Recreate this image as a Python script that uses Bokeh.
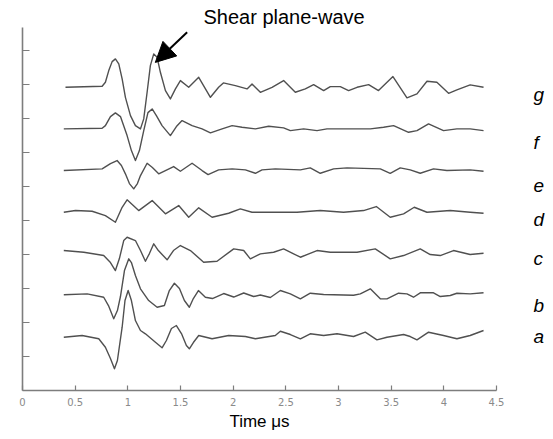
from bokeh.plotting import figure
from bokeh.models import (Range1d, FixedTicker, NumeralTickFormatter, LinearAxis,
                          Arrow, NormalHead)
from bokeh.embed import file_html
from bokeh.resources import INLINE

# ---------------- data (time in microseconds, vertical trace position in tick units) ----
time_g = [0.408, 0.756, 0.787, 0.819, 0.851, 0.882, 0.914, 0.946, 0.977, 1.025, 1.072, 1.120,
          1.151, 1.183, 1.214, 1.246, 1.278, 1.309, 1.357, 1.404, 1.452, 1.499,
          1.578, 1.673, 1.784, 1.862, 1.907, 2.021, 2.132, 2.179, 2.258, 2.369, 2.479, 2.590,
          2.685, 2.764, 2.859, 2.922, 3.017, 3.096, 3.176, 3.286, 3.380, 3.517, 3.650, 3.745,
          3.840, 3.934, 4.045, 4.124, 4.250, 4.377]
trace_g = [8.921, 8.950, 9.068, 9.412, 9.676, 9.756, 9.609, 9.168, 8.626, 8.088, 7.794, 7.697,
           7.991, 8.774, 9.559, 9.903, 9.803, 9.362, 8.824, 8.579, 8.874, 9.118,
           8.921, 9.215, 8.626, 8.921, 9.050, 8.971, 8.874, 9.021, 8.774, 8.921, 9.118, 8.774,
           8.874, 9.000, 8.824, 8.941, 8.941, 8.824, 8.921, 9.000, 8.824, 9.235, 8.609, 8.726,
           9.097, 9.068, 8.744, 8.844, 8.991, 8.921]

time_f = [0.392, 0.756, 0.787, 0.835, 0.882, 0.930, 0.993, 1.034, 1.072, 1.110, 1.151, 1.191,
          1.231, 1.271, 1.325, 1.404, 1.461, 1.515,
          1.610, 1.705, 1.784, 1.895, 1.990, 2.084, 2.211, 2.337, 2.479, 2.543, 2.669, 2.796,
          2.891, 3.302, 3.428, 3.523, 3.665, 3.745, 3.855, 3.997, 4.124, 4.250, 4.377]
trace_f = [7.697, 7.715, 7.794, 8.059, 8.168, 8.059, 7.500, 7.059, 6.765, 7.059, 7.647, 8.176,
           8.285, 8.088, 7.794, 7.500, 7.765, 7.941,
           7.794, 7.697, 7.579, 7.697, 7.794, 7.744, 7.697, 7.774, 7.726, 7.647, 7.697, 7.647,
           7.697, 7.697, 7.744, 7.794, 7.597, 7.647, 7.844, 7.647, 7.697, 7.697, 7.647]

time_e = [0.392, 0.756, 0.835, 0.898, 0.939, 0.977, 1.015, 1.056, 1.091, 1.120, 1.183, 1.233,
          1.293,
          1.435, 1.499, 1.610, 1.705, 1.762, 1.862, 1.990, 2.116, 2.211, 2.274, 2.400, 2.638,
          2.732, 2.827, 2.954, 3.081, 3.397, 3.491, 3.586, 3.681, 3.776, 3.902, 4.029, 4.250,
          4.377]
trace_e = [6.471, 6.521, 6.676, 6.765, 6.618, 6.374, 6.088, 5.932, 6.088, 6.324, 6.685, 6.559,
           6.374,
           6.588, 6.450, 6.685, 6.471, 6.353, 6.491, 6.521, 6.491, 6.391, 6.491, 6.521, 6.491,
           6.550, 6.391, 6.521, 6.550, 6.521, 6.391, 6.550, 6.491, 6.391, 6.521, 6.471, 6.491,
           6.450]

time_d = [0.392, 0.503, 0.661, 0.787, 0.882, 0.946, 0.993, 1.103, 1.231, 1.357, 1.483, 1.578,
          1.673, 1.800, 1.957, 2.068, 2.179, 2.400, 2.606, 2.827, 3.048, 3.238, 3.359, 3.491,
          3.618, 3.719, 3.840, 4.061, 4.250, 4.377]
trace_d = [5.244, 5.294, 5.274, 5.147, 4.950, 5.391, 5.609, 5.294, 5.588, 5.197, 5.441, 5.097,
           5.374, 5.097, 5.215, 5.344, 5.244, 5.244, 5.244, 5.294, 5.244, 5.294, 5.412, 5.097,
           5.197, 5.391, 5.244, 5.294, 5.244, 5.215]

time_c = [0.392, 0.582, 0.771, 0.835, 0.882, 0.920, 0.961, 0.993, 1.072, 1.120, 1.167, 1.205,
          1.246, 1.290, 1.373, 1.433, 1.499,
          1.594, 1.720, 1.847, 2.005, 2.100, 2.163, 2.258, 2.384, 2.479, 2.638, 2.796, 2.922,
          3.176, 3.349, 3.491, 3.618, 3.776, 3.871, 3.966, 4.092, 4.250, 4.377]
trace_c = [4.118, 4.068, 3.971, 3.765, 3.529, 3.882, 4.412, 4.509, 4.412, 4.118, 3.803, 4.029,
           4.315, 4.118, 3.844, 4.118, 4.265,
           4.118, 3.774, 3.803, 4.168, 4.118, 3.874, 4.021, 4.068, 4.168, 3.921, 4.118, 4.068,
           4.068, 4.168, 3.874, 3.971, 4.168, 4.000, 3.971, 4.118, 4.000, 4.038]

time_b = [0.392, 0.614, 0.771, 0.816, 0.866, 0.901, 0.930, 0.968, 1.009, 1.034, 1.072, 1.120,
          1.198, 1.278, 1.347, 1.394, 1.442, 1.490, 1.537, 1.584, 1.622, 1.670, 1.736,
          1.803, 1.910, 2.005, 2.100, 2.194, 2.258, 2.353, 2.448, 2.543, 2.638, 2.732, 2.859,
          3.143, 3.207, 3.302, 3.397, 3.460, 3.570, 3.650, 3.712, 3.776, 3.902, 3.966, 4.061,
          4.124, 4.250, 4.377]
trace_b = [2.815, 2.844, 2.744, 2.500, 2.109, 2.353, 2.765, 3.529, 3.874, 3.765, 3.382, 2.991,
           2.647, 2.450, 2.500, 2.941, 3.156, 3.000, 2.647, 2.450, 2.706, 2.941, 2.744,
           2.706, 2.853, 2.750, 2.868, 2.765, 2.809, 2.735, 2.941, 2.844, 2.697, 2.862, 2.824,
           2.803, 2.844, 2.991, 2.697, 2.697, 2.862, 2.844, 2.744, 2.874, 2.874, 2.765, 2.794,
           2.862, 2.844, 2.874]

time_a = [0.392, 0.566, 0.724, 0.787, 0.835, 0.873, 0.901, 0.946, 0.973, 1.003, 1.034, 1.072,
          1.120, 1.167, 1.262, 1.325, 1.366, 1.414, 1.461, 1.509, 1.556, 1.584, 1.622, 1.673,
          1.800, 1.957, 2.116, 2.211, 2.400, 2.448, 2.543, 2.638, 2.732, 2.859, 2.986, 3.143,
          3.254, 3.365, 3.460, 3.618, 3.681, 3.745, 3.855, 3.997, 4.124, 4.250, 4.377]
trace_a = [1.568, 1.618, 1.521, 1.274, 0.941, 0.638, 0.882, 1.862, 2.647, 2.941, 2.647, 2.059,
           1.765, 1.668, 1.421, 1.256, 1.471, 1.824, 1.912, 1.676, 1.324, 1.226, 1.412, 1.618,
           1.521, 1.618, 1.588, 1.521, 1.618, 1.744, 1.647, 1.521, 1.668, 1.618, 1.668, 1.588,
           1.715, 1.491, 1.568, 1.647, 1.588, 1.491, 1.715, 1.618, 1.521, 1.618, 1.765]

trace_names = ["g", "f", "e", "d", "c", "b", "a"]
x_ticks = [0, 0.5, 1, 1.5, 2, 2.5, 3, 3.5, 4, 4.5]
y_ticks = [1, 2, 3, 4, 5, 6, 7, 8, 9, 10]
x_title = "Time μs"
annotation = "Shear plane-wave"

# ---------------- figure ----------------
p = figure(width=553, height=439, output_backend="svg", toolbar_location=None,
           x_range=Range1d(0, 4.5), y_range=Range1d(0, 10.68), title=annotation,
           min_border_left=22, min_border_right=57, min_border_top=27, min_border_bottom=49)
p.outline_line_color = None
p.grid.visible = False
p.background_fill_color = "white"
p.border_fill_color = "white"

p.title.align = "left"
p.title.offset = 181
p.title.standoff = 0
p.title.text_font = "Liberation Sans"
p.title.text_font_size = "20px"
p.title.text_font_style = "normal"
p.title.text_color = "black"

axis_col = "#7d7d7d"
for ax in (p.xaxis[0], p.yaxis[0]):
    ax.axis_line_color = axis_col
    ax.axis_line_width = 1.6
    ax.major_tick_line_color = axis_col
    ax.major_tick_line_width = 1.2
    ax.minor_tick_line_color = None
    ax.major_tick_out = 0

xa = p.xaxis[0]
xa.ticker = FixedTicker(ticks=x_ticks)
xa.formatter = NumeralTickFormatter(format="0.[0]")
xa.major_tick_in = 5
xa.major_label_standoff = 7
xa.major_label_text_font = "DejaVu Sans"
xa.major_label_text_font_size = "10px"
xa.major_label_text_color = "#8a8a8a"
xa.axis_label = x_title
xa.axis_label_standoff = 3
xa.axis_label_text_font = "Liberation Sans"
xa.axis_label_text_font_size = "17px"
xa.axis_label_text_font_style = "normal"
xa.axis_label_text_color = "black"

ya = p.yaxis[0]
ya.ticker = FixedTicker(ticks=y_ticks)
ya.major_tick_in = 7
ya.major_label_overrides = {t: "" for t in y_ticks}
ya.major_label_text_font_size = "10px"
ya.major_label_standoff = 0

line_col = "#505050"
series = [(time_g, trace_g), (time_f, trace_f), (time_e, trace_e), (time_d, trace_d),
          (time_c, trace_c), (time_b, trace_b), (time_a, trace_a)]
for t, v in series:
    p.line(t, v, line_color=line_col, line_width=1.4, line_join="round")

# trace letters on the right, drawn by an axis without line or ticks
label_y = [8.72, 7.31, 6.02, 5.02, 3.87, 2.49, 1.58]
right = LinearAxis(ticker=FixedTicker(ticks=label_y),
                   major_label_overrides={yv: nm for yv, nm in zip(label_y, trace_names)},
                   axis_line_color=None, major_tick_line_color=None, minor_tick_line_color=None,
                   major_label_standoff=31, major_label_text_font="Liberation Sans",
                   major_label_text_font_style="italic", major_label_text_font_size="19px",
                   major_label_text_color="black")
p.add_layout(right, "right")

# arrow pointing at the shear plane-wave peak
peak_i = trace_g.index(max(trace_g))
p.add_layout(Arrow(end=NormalHead(size=20, fill_color="black", line_color="black"),
                   x_start=1.563, y_start=10.54,
                   x_end=time_g[peak_i] + 0.015, y_end=trace_g[peak_i] - 0.25,
                   line_color="black", line_width=2))

open("out.html", "w").write(file_html(p, INLINE))
